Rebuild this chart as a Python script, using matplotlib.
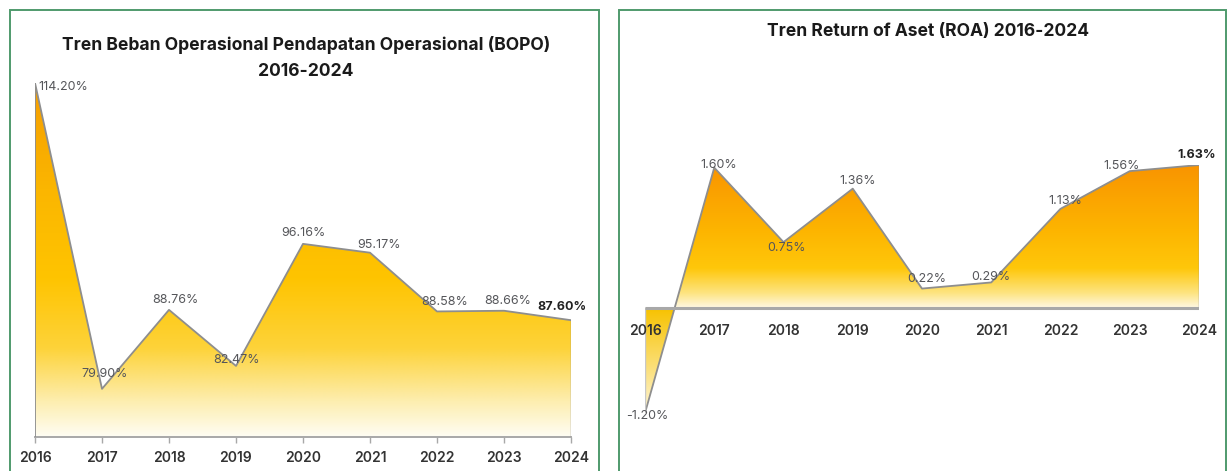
import numpy as np
import matplotlib.pyplot as plt
from matplotlib.colors import LinearSegmentedColormap
from matplotlib.patches import Rectangle

plt.rcParams['font.family'] = ['Inter', 'DejaVu Sans']

years = [2016, 2017, 2018, 2019, 2020, 2021, 2022, 2023, 2024]
bopo = [114.20, 79.90, 88.76, 82.47, 96.16, 95.17, 88.58, 88.66, 87.60]
roa = [-1.20, 1.60, 0.75, 1.36, 0.22, 0.29, 1.13, 1.56, 1.63]

W, H = 1228, 471
fig = plt.figure(figsize=(W / 100, H / 100), dpi=100)
fig.patch.set_facecolor('white')


def frac(x0, y0, x1, y1):
    # pixel box (top-left origin) -> figure fraction [l, b, w, h]
    return [x0 / W, 1 - y1 / H, (x1 - x0) / W, (y1 - y0) / H]


# green panel frames
for x0, x1 in [(10, 599), (619, 1226)]:
    fig.add_artist(Rectangle((x0 / W, -0.05), (x1 - x0) / W, 1 - 10 / H + 0.05,
                             transform=fig.transFigure, fill=False,
                             edgecolor='#4f9a6c', lw=1.4))

line_col = '#8e8e8e'
lab_col = '#55565a'


def gradient_fill(ax, x, y, base, cmap, lo, hi):
    poly = ax.fill_between(x, y, base, facecolor='none', edgecolor='none')
    grad = np.linspace(0, 1, 1024).reshape(-1, 1)
    img = ax.imshow(grad, cmap=cmap, aspect='auto', origin='lower',
                    extent=[x[0], x[-1], lo, hi], zorder=1, interpolation='bilinear')
    img.set_clip_path(poly.get_paths()[0], transform=ax.transData)


# ---------------- BOPO ----------------
ax1 = fig.add_axes(frac(35, 83, 571, 437))
lo1, hi1 = 74.5, 114.2
cmap1 = LinearSegmentedColormap.from_list('bopo', [
    (0.0, '#fffdf4'), (0.10, '#fdeeb0'), (0.25, '#fdd33a'),
    (0.45, '#ffc400'), (0.7, '#fbb600'), (1.0, '#f59d00')], N=1024)
gradient_fill(ax1, years, bopo, lo1, cmap1, lo1, hi1)
ax1.plot(years, bopo, color=line_col, lw=1.3, zorder=3)
ax1.plot([years[0], years[0]], [lo1, bopo[0]], color=line_col, lw=1.3, zorder=3)
ax1.plot([years[-1], years[-1]], [lo1, bopo[-1]], color=line_col, lw=1.0, zorder=3)
ax1.set_xlim(years[0], years[-1])
ax1.set_ylim(lo1, hi1)
for s in ['top', 'left', 'right']:
    ax1.spines[s].set_visible(False)
ax1.spines['bottom'].set_color('#a8a8a8')
ax1.spines['bottom'].set_linewidth(1.4)
ax1.set_yticks([])
ax1.set_xticks(years)
ax1.tick_params(axis='x', length=4, color='#a8a8a8', width=1, pad=6,
                labelsize=10, labelcolor='#333333')
for t in ax1.get_xticklabels():
    t.set_fontweight('semibold')
ax1.patch.set_alpha(0)

off1 = [(3, -4, 'left'), (3, 15, 'center'), (6, 10, 'center'), (0, 6, 'center'),
        (0, 11, 'center'), (9, 8, 'center'), (8, 9, 'center'), (4, 10, 'center'),
        (-9, 13, 'center')]
for i, (yr, v) in enumerate(zip(years, bopo)):
    dx, dy, ha = off1[i]
    last = i == len(years) - 1
    ax1.annotate(f'{v:.2f}%', (yr, v), xytext=(dx * 0.72, dy * 0.72),
                 textcoords='offset points', ha=ha, va='center',
                 fontsize=9, color='#222222' if last else lab_col,
                 fontweight='bold' if last else 'normal', zorder=5,
                 annotation_clip=False)

fig.text(306 / W, 1 - 45 / H, 'Tren Beban Operasional Pendapatan Operasional (BOPO)',
         ha='center', va='center', fontsize=12.6, fontweight='bold', color='#1a1a1a')
fig.text(306 / W, 1 - 71 / H, '2016-2024', ha='center', va='center',
         fontsize=12.6, fontweight='bold', color='#1a1a1a')

# ---------------- ROA ----------------
lo2, hi2 = -1.20, 1.63
ax2 = fig.add_axes(frac(645, 165, 1199, 413))
z = (0 - lo2) / (hi2 - lo2)
cmap2 = LinearSegmentedColormap.from_list('roa', [
    (0.0, '#fff6d6'), (z - 0.001, '#f7c200'), (z, '#fff8e4'),
    (z + 0.06, '#fde481'), (z + 0.16, '#ffc70a'), (z + 0.32, '#fdb400'),
    (1.0, '#f99400')], N=1024)
gradient_fill(ax2, years, roa, 0, cmap2, lo2, hi2)
ax2.plot(years, roa, color=line_col, lw=1.3, zorder=3)
ax2.plot([years[0], years[0]], [0, roa[0]], color='#c8c8c8', lw=1.0, zorder=3)
ax2.plot([years[-1], years[-1]], [0, roa[-1]], color=line_col, lw=1.0, zorder=3)
ax2.plot([years[0], years[-1]], [0, 0], color='#a8a8a8', lw=2.2, zorder=3,
         solid_capstyle='butt')
ax2.set_xlim(years[0], years[-1])
ax2.set_ylim(lo2, hi2)
ax2.axis('off')

for yr in years:
    ax2.annotate(str(yr), (yr, 0), xytext=(0, -17), textcoords='offset points',
                 ha='center', va='center', fontsize=10, fontweight='semibold',
                 color='#333333', zorder=6, annotation_clip=False)

off2 = [(2, -3, 'center'), (4, 3, 'center'), (3, -6, 'center'), (5, 8, 'center'),
        (5, 10, 'center'), (0, 5, 'center'), (5, 8, 'center'), (-8, 5, 'center'),
        (-2, 10, 'center')]
for i, (yr, v) in enumerate(zip(years, roa)):
    dx, dy, ha = off2[i]
    last = i == len(years) - 1
    ax2.annotate(f'{v:.2f}%', (yr, v), xytext=(dx * 0.72, dy * 0.72),
                 textcoords='offset points', ha=ha, va='center',
                 fontsize=9, color='#222222' if last else lab_col,
                 fontweight='bold' if last else 'normal', zorder=5,
                 annotation_clip=False)

fig.text(928 / W, 1 - 31 / H, 'Tren Return of Aset (ROA) 2016-2024',
         ha='center', va='center', fontsize=12.6, fontweight='bold', color='#1a1a1a')

fig.savefig('out.png', dpi=100)
